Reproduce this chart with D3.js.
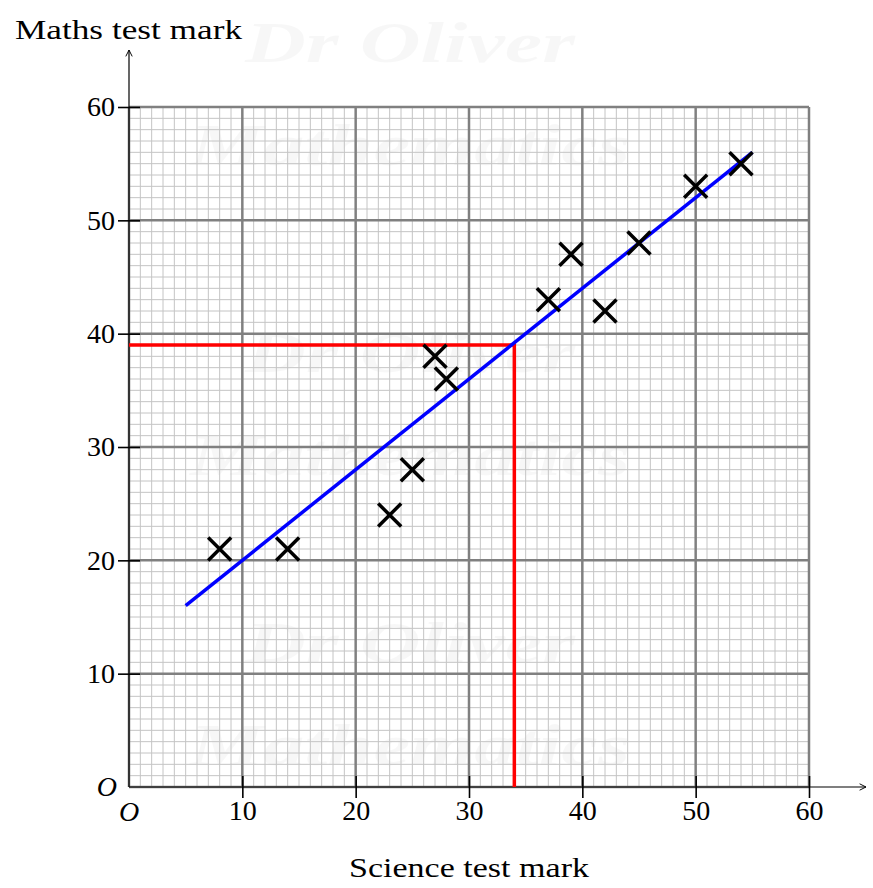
<!DOCTYPE html>
<html>
<head>
<meta charset="utf-8">
<script src="https://cdn.jsdelivr.net/npm/d3@7"></script>
<style>
  body { margin: 0; background: #fff; }
  svg text { font-family: "Liberation Serif", "DejaVu Serif", serif; }
</style>
</head>
<body>
<div id="chart"></div>
<script>
// data
const science = [8, 14, 23, 25, 27, 28, 37, 39, 42, 45, 50, 54];
const maths = [21, 21, 24, 28, 38, 36, 43, 47, 42, 48, 53, 55];
const bestFit = [[5, 16], [55, 56]];
const readOff = [[0, 39], [34, 39], [34, 0]];
const tickValues = [10, 20, 30, 40, 50, 60];

const w = 873, h = 888;
const margin = { top: 107, left: 129 };
const size = 680;

const svg = d3.select("#chart").append("svg")
  .attr("width", w)
  .attr("height", h);

const x = d3.scaleLinear().domain([0, 60]).range([margin.left, margin.left + size]);
const y = d3.scaleLinear().domain([0, 60]).range([margin.top + size, margin.top]);

// faint watermark
const wm = svg.append("g")
  .attr("fill", "#000")
  .attr("fill-opacity", 0.03)
  .attr("font-style", "italic")
  .attr("font-weight", "bold")
  .attr("text-anchor", "middle")
  .style("font-family", "'DejaVu Serif', serif");
[0, 310, 600].forEach(dy => {
  wm.append("text").attr("x", 410).attr("y", 62 + dy).attr("font-size", 58)
    .attr("textLength", 330).attr("lengthAdjust", "spacingAndGlyphs").text("Dr Oliver");
  wm.append("text").attr("x", 410).attr("y", 165 + dy).attr("font-size", 60)
    .attr("textLength", 440).attr("lengthAdjust", "spacingAndGlyphs").text("Mathematics");
});

// grid
const minor = d3.range(0, 61).filter(v => v % 10 !== 0);
const major = d3.range(0, 61, 10);
const grid = svg.append("g");
grid.selectAll(".vminor").data(minor).join("line")
  .attr("class", "vminor")
  .attr("x1", d => x(d)).attr("x2", d => x(d))
  .attr("y1", y(0)).attr("y2", y(60))
  .attr("stroke", "#c4c4c4").attr("stroke-width", 1);
grid.selectAll(".hminor").data(minor).join("line")
  .attr("class", "hminor")
  .attr("y1", d => y(d)).attr("y2", d => y(d))
  .attr("x1", x(0)).attr("x2", x(60))
  .attr("stroke", "#c4c4c4").attr("stroke-width", 1);
grid.selectAll(".vmajor").data(major).join("line")
  .attr("class", "vmajor")
  .attr("x1", d => x(d)).attr("x2", d => x(d))
  .attr("y1", y(0)).attr("y2", y(60))
  .attr("stroke", "#808080").attr("stroke-width", 2.5);
grid.selectAll(".hmajor").data(major).join("line")
  .attr("class", "hmajor")
  .attr("y1", d => y(d)).attr("y2", d => y(d))
  .attr("x1", x(0)).attr("x2", x(60))
  .attr("stroke", "#808080").attr("stroke-width", 2.5);

// axes with arrows
const defs = svg.append("defs");
defs.append("marker")
  .attr("id", "arrow")
  .attr("viewBox", "0 0 10 10")
  .attr("refX", 9).attr("refY", 5)
  .attr("markerWidth", 8).attr("markerHeight", 8)
  .attr("markerUnits", "userSpaceOnUse")
  .attr("orient", "auto")
  .append("path")
  .attr("d", "M1,1 L9,5 L1,9")
  .attr("fill", "none").attr("stroke", "#000").attr("stroke-width", 1.2);

svg.append("line")
  .attr("x1", x(0)).attr("y1", y(0))
  .attr("x2", 866).attr("y2", y(0))
  .attr("stroke", "#000").attr("stroke-width", 1.2)
  .attr("marker-end", "url(#arrow)");
svg.append("line")
  .attr("x1", x(0)).attr("y1", y(0))
  .attr("x2", x(0)).attr("y2", 50)
  .attr("stroke", "#000").attr("stroke-width", 1.2)
  .attr("marker-end", "url(#arrow)");

// ticks
const xAxis = d3.axisBottom(x).tickValues(tickValues).tickSize(11).tickSizeOuter(0).tickFormat(d3.format("d"));
const yAxis = d3.axisLeft(y).tickValues(tickValues).tickSize(11).tickSizeOuter(0).tickFormat(d3.format("d"));

const gx = svg.append("g").attr("transform", `translate(0,${y(0)})`).call(xAxis);
gx.select(".domain").remove();
gx.selectAll(".tick line").attr("y1", -11).attr("stroke-width", 1.6);
gx.selectAll(".tick text").attr("y", 13).attr("font-size", 28).attr("fill", "#000")
  .style("font-family", "'Liberation Serif', serif");

const gy = svg.append("g").attr("transform", `translate(${x(0)},0)`).call(yAxis);
gy.select(".domain").remove();
gy.selectAll(".tick line").attr("x1", 11).attr("stroke-width", 1.6);
gy.selectAll(".tick text").attr("x", -14).attr("font-size", 28).attr("fill", "#000")
  .style("font-family", "'Liberation Serif', serif");

// origin labels
svg.append("text").attr("x", x(0) - 12).attr("y", y(0) + 9)
  .attr("text-anchor", "end").attr("font-size", 28).attr("font-style", "italic").text("O");
svg.append("text").attr("x", x(0)).attr("y", y(0) + 34)
  .attr("text-anchor", "middle").attr("font-size", 28).attr("font-style", "italic").text("O");

// axis titles
svg.append("text").attr("x", 15).attr("y", 39)
  .attr("font-size", 28).attr("textLength", 227).attr("lengthAdjust", "spacingAndGlyphs")
  .text("Maths test mark");
svg.append("text").attr("x", 349).attr("y", 877)
  .attr("font-size", 28).attr("textLength", 240).attr("lengthAdjust", "spacingAndGlyphs")
  .text("Science test mark");

// red read-off lines
svg.append("path")
  .datum(readOff)
  .attr("fill", "none")
  .attr("stroke", "#ff0000")
  .attr("stroke-width", 3.5)
  .attr("d", d3.line().x(d => x(d[0])).y(d => y(d[1])));

// line of best fit
svg.append("path")
  .datum(bestFit)
  .attr("fill", "none")
  .attr("stroke", "#0000ff")
  .attr("stroke-width", 3.5)
  .attr("d", d3.line().x(d => x(d[0])).y(d => y(d[1])));

// crosses
const s = 11.5;
const pts = science.map((v, i) => [v, maths[i]]);
svg.append("g").selectAll("path").data(pts).join("path")
  .attr("d", d => {
    const px = x(d[0]), py = y(d[1]);
    return `M${px - s},${py - s}L${px + s},${py + s}M${px - s},${py + s}L${px + s},${py - s}`;
  })
  .attr("stroke", "#000")
  .attr("stroke-width", 3.5)
  .attr("fill", "none");
</script>
</body>
</html>
